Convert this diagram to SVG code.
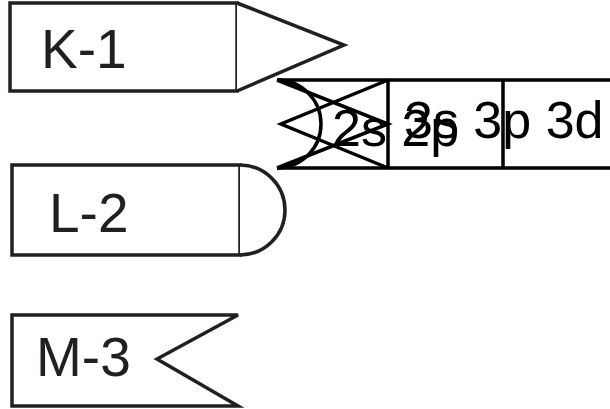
<svg xmlns="http://www.w3.org/2000/svg" width="610" height="409" viewBox="0 0 610 409">
<style>
.n{fill:#fff;stroke:#231f20;stroke-width:3.5;stroke-linejoin:miter}
.o{fill:none;stroke:#000;stroke-width:3.5;stroke-linejoin:miter}
.t{font-family:"Liberation Sans",Arial,sans-serif;font-size:55px;fill:#231f20}
.m{font-family:"Liberation Sans",Arial,sans-serif;font-size:52px;fill:#000}
</style>
<rect width="610" height="409" fill="#fff"/>
<g id="K-1">
<rect class="n" x="10" y="3" width="227" height="88"/>
<path class="n" d="M237,3 L344,45 L237,91"/>
<text class="t" x="41" y="68">K-1</text>
</g>
<g id="L-2">
<rect class="n" x="12" y="165" width="228" height="90"/>
<path class="n" d="M240,165 A45,45 0 0 1 240,255"/>
<text class="t" x="49" y="232">L-2</text>
</g>
<g id="M-3">
<path class="n" d="M12,315 L238,315 L157,359 L238,406 L12,406 Z"/>
<text class="t" x="36" y="376">M-3</text>
</g>
<g id="orbitals">
<path class="o" d="M277,80 L612,80 M277,168 L612,168 M388,80 L388,168 M503,80 L503,168"/>
<path class="o" d="M277,80 L388,124 L277,168"/>
<path class="o" d="M277,80 A44,44 0 0 1 277,168"/>
<path class="o" d="M388,80 L281,124 L388,168"/>
<text class="m" x="332" y="146">2s 2p</text>
<text class="m" x="404" y="138">3s 3p 3d</text>
</g>
<g id="connectors"/>
</svg>
